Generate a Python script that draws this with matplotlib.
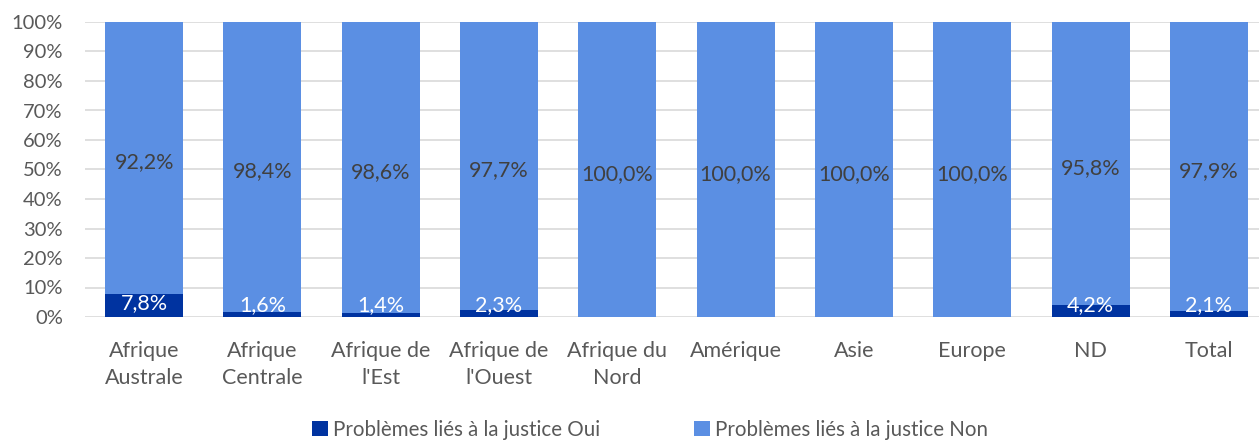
import numpy as np
import matplotlib.pyplot as plt

# Données
regions = ["Afrique\nAustrale", "Afrique\nCentrale", "Afrique de\nl'Est", "Afrique de\nl'Ouest",
           "Afrique du\nNord", "Amérique", "Asie", "Europe", "ND", "Total"]
oui = [7.8, 1.6, 1.4, 2.3, 0.0, 0.0, 0.0, 0.0, 4.2, 2.1]
non = [92.2, 98.4, 98.6, 97.7, 100.0, 100.0, 100.0, 100.0, 95.8, 97.9]
noms_series = ["Problèmes liés à la justice Oui", "Problèmes liés à la justice Non"]

couleur_oui = "#0033A0"
couleur_non = "#5B8FE3"
gris = "#595959"

plt.rcParams['font.family'] = ['Lato', 'DejaVu Sans']

fig = plt.figure(figsize=(12.59, 4.4), dpi=100)
ax = fig.add_axes([85 / 1259, 1 - 317 / 440, 1183 / 1259, 295 / 440])

x = np.arange(len(regions))
b1 = ax.bar(x, oui, width=0.66, color=couleur_oui, label=noms_series[0], zorder=3)
b2 = ax.bar(x, non, width=0.66, bottom=oui, color=couleur_non, label=noms_series[1], zorder=3)

def fmt(v):
    return f"{v:.1f}%".replace(".", ",")

for i in range(len(regions)):
    if oui[i] > 0:
        y = max(oui[i] / 2 + 0.7, 4.0)
        ax.text(x[i], y, fmt(oui[i]), ha="center", va="center", color="white",
                fontsize=15.5, zorder=4)
    ax.text(x[i], oui[i] + non[i] / 2 - 1.5, fmt(non[i]), ha="center", va="center",
            color="#404040", fontsize=15.5, zorder=4)

ax.set_xlim(-0.5, len(regions) - 0.5)
ax.set_ylim(0, 100)
ax.set_yticks(np.arange(0, 101, 10))
ax.set_yticklabels([f"{t}%" for t in range(0, 101, 10)])
ax.set_xticks(x)
ax.set_xticklabels(regions, linespacing=1.45, va="top")
ax.tick_params(axis="both", length=0, colors=gris)
ax.tick_params(axis="x", pad=17, labelsize=15.5)
ax.tick_params(axis="y", pad=16, labelsize=14.5)
ax.grid(axis="y", color="#D9D9D9", linewidth=1.2, zorder=0)
for s in ax.spines.values():
    s.set_visible(False)

fig.legend(handles=[b1, b2], loc="center", bbox_to_anchor=(650 / 1259, 1 - 430 / 440),
           ncol=2, frameon=False, fontsize=14.8, labelcolor=gris,
           handlelength=0.75, handleheight=0.75, handletextpad=0.25, columnspacing=4.6)

fig.savefig("out.png", dpi=100)
